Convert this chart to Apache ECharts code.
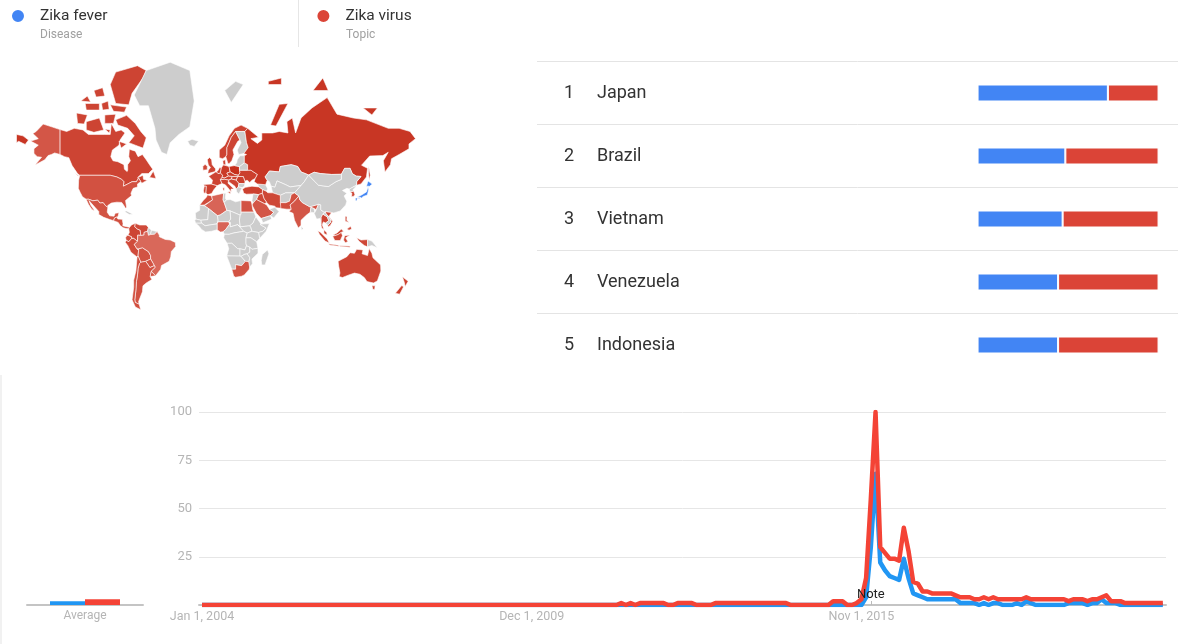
<!DOCTYPE html>
<html>
<head>
<meta charset="utf-8">
<title>Zika fever vs Zika virus</title>
<style>
  html, body { margin: 0; padding: 0; background: #fff; }
  #chart { width: 1178px; height: 644px; }
</style>
<script src="https://cdn.jsdelivr.net/npm/echarts@6/dist/echarts.min.js"></script>
</head>
<body>
<div id="chart"></div>
<script>
// legend
const seriesNames = ['Zika fever', 'Zika virus'];
const seriesKinds = ['Disease', 'Topic'];

// top regions table
const rankNames = ['Japan', 'Brazil', 'Vietnam', 'Venezuela', 'Indonesia'];
const rankFever = [72, 48.5, 47, 44.5, 44.5];
const rankVirus = [28, 51.5, 53, 55.5, 55.5];

// interest over time, one value per month from Jan 2004
const trendFever = [
  0,0,0,0,0,0,0,0,0,0,0,0,0,0,0,0,0,0,0,0,0,0,0,0,0,0,0,0,0,0,
  0,0,0,0,0,0,0,0,0,0,0,0,0,0,0,0,0,0,0,0,0,0,0,0,0,0,0,0,0,0,
  0,0,0,0,0,0,0,0,0,0,0,0,0,0,0,0,0,0,0,0,0,0,0,0,0,0,0,0,0,0,
  0,0,0,0,0,0,0,0,0,0,0,0,0,0,0,0,0,0,0,0,0,0,0,0,0,0,0,0,0,0,
  0,0,0,0,0,0,0,0,0,0,0,0,0,0,0,0,0,0,0,0,0,4,30,68,22,18,15,14,13,24,
  14,6,5,4,3,3,3,3,3,3,3,1,1,1,1,0,1,0,1,1,0,0,0,1,0,2,1,0,0,0,
  0,0,0,0,1,1,1,1,0,1,1,3,1,1,1,0,0,0,0,0,0,0,0,0,0
];
const trendVirus = [
  0,0,0,0,0,0,0,0,0,0,0,0,0,0,0,0,0,0,0,0,0,0,0,0,0,0,0,0,0,0,
  0,0,0,0,0,0,0,0,0,0,0,0,0,0,0,0,0,0,0,0,0,0,0,0,0,0,0,0,0,0,
  0,0,0,0,0,0,0,0,0,0,0,0,0,0,0,0,0,0,0,0,0,0,0,0,0,0,0,0,0,1,
  0,1,0,1,1,1,1,1,1,0,0,1,1,1,1,0,0,0,0,1,1,1,1,1,1,1,1,1,1,1,
  1,1,1,1,1,0,0,0,0,0,0,0,0,0,2,2,2,0,0,1,3,14,55,100,30,27,24,24,23,40,
  28,12,11,7,7,6,6,6,6,6,5,4,4,4,3,3,4,3,4,3,3,3,3,3,3,4,3,3,3,3,
  3,3,3,3,2,3,3,3,2,3,3,4,5,2,2,2,1,1,1,1,1,1,1,1,1
];
const labelTicks = [0, 70, 140];
const labelTexts = ['Jan 1, 2004', 'Dec 1, 2009', 'Nov 1, 2015'];
const noteTicks = [142];

// average bars
const averageFever = [2];
const averageVirus = [3];

// map: countries with a red share (0-100 darkness), everything else stays grey
const mapNames = ['Russia','Poland','Canada','Alaska','USA','Mexico','Central America','Colombia','Venezuela','Ecuador','Peru','Bolivia','Brazil','Paraguay','Uruguay','Argentina','Chile','Norway','Sweden','UK','Ireland','Spain','Portugal','France','Benelux','Germany','Alps','Italy','Czechia','Denmark','Ukraine','Hungary','Romania','Balkans','Turkey','Iran','Iraq','Saudi Arabia','Pakistan','India','South Korea','Thailand','Vietnam','Malaysia','Indonesia','Philippines','Australia','New Zealand','Morocco','Algeria','Egypt','Nigeria','South Africa'];
const mapShares = [90,100,70,45,52,50,55,70,62,55,60,50,20,50,50,52,55,72,70,70,65,75,72,72,72,85,75,72,85,70,78,70,78,72,75,65,65,45,55,45,70,72,70,70,65,60,70,75,60,25,50,25,50];
const blueCountries = ['Japan'];

// rough outlines as lon,lat pairs
const countryShapes = {
  Alaska: [[-141,69.6,-148,70.4,-156.5,71.3,-163,69,-166,68.3,-161,66.5,-168,65.6,-161,64,-165,62.5,-165,60.5,-162,59,-158,58.7,-164,54.8,-155,57.5,-152,59.5,-149,60,-146,60.7,-141,60]],
  Canada: [
    [-141,69.6,-135,69,-128,70,-120,69.5,-115,68,-108,68,-100,68,-95,68,-94,71.5,-90,69,-85,69.5,-81.5,68.5,-86,66,-87,64,-93,62,-94.5,59,-92.5,57,-88,56.5,-82.5,55,-82,52.5,-79.5,51.2,-79,52,-79,55,-76.5,57,-78,59,-77.5,62.3,-72,61.5,-69.5,59,-65.5,60,-62,57.5,-59,55,-56,52.5,-60,50,-66,50,-70,47.5,-65,49,-64.5,46.5,-61,46,-61,45.5,-66,44,-67,45,-69,47.3,-71,45,-75,45,-79,43.5,-83,42,-82.5,45,-84.5,46.5,-89,48,-95,49,-123,49,-125,50,-130,54.5,-130,55,-133,58.5,-137,59,-141,60],
    [-90,72.5,-80,73.7,-72,71.5,-67,69,-62,66.8,-65,62.8,-72,64,-78,65,-73,67.5,-79,70,-88,71],
    [-117,72,-105,73,-101,69.5,-110,68.7,-117,69.5],
    [-126,74.3,-116,73.8,-119,71.3,-125,71.5],
    [-95,80,-90,76.5,-78,76.2,-75,78.5,-65,81,-62,82,-70,82.6,-90,81.8],
    [-95,76.2,-80,75.7,-82,74.5,-92,74.7],
    [-118,76.5,-105,76.5,-105,75,-117,75],
    [-122,77,-116,78,-113,76.8],
    [-103,76.5,-97,77,-96,75.2,-102,75],
    [-100,73.8,-90,74,-92,71.5,-100,71.5],
    [-100,69.8,-95,69.5,-96,68.5],
    [-87,65.5,-80,64.5,-85,62.8],
    [-59,47.7,-53,47,-55.5,51.5],
    [-128,50.7,-123.5,48.4,-125,48.7],
    [-110,79,-102,79.5,-100,78,-108,77.8]
  ],
  USA: [[-123,49,-95,49,-89,48,-84.5,46.5,-82.5,45,-83,42,-79,43.5,-75,45,-71,45,-69,47.3,-67,45,-70,43.5,-70,41.5,-74,40.5,-76,37,-75.5,35.3,-81,31.5,-80,26,-81,25.2,-82.8,28,-84.5,30,-89,30.2,-94,29.5,-97.3,27.5,-97.2,25.9,-99.5,27.5,-101.5,29.8,-104.5,29.5,-106.5,31.8,-111,31.3,-114.8,32.5,-117.1,32.5,-120.5,34.5,-122.5,37.5,-124.3,40.5,-124,46]],
  Mexico: [[-117.1,32.5,-114.8,32.5,-111,31.3,-106.5,31.8,-104.5,29.5,-101.5,29.8,-99.5,27.5,-97.2,25.9,-97.8,22,-95.5,18.8,-91.5,18.5,-90.5,21,-87,21.5,-88,18,-89,17.8,-91,17,-92,14.6,-96,15.8,-101,17.5,-105.5,20,-105.5,22.5,-109,26,-112.5,29.5,-114.5,31.5,-113,28,-110,24,-109.7,23,-112,24.5,-115,28.5]],
  'Central America': [[-92,14.6,-91,17,-89,17.8,-88,16,-84,15.8,-83.3,12,-83.5,10,-80,9.2,-77.3,8.6,-78,7.4,-80.5,7.5,-83,8.2,-85.7,10,-87.7,13]],
  Cuba: [[-85,22,-80,23,-74.2,20.2,-77.5,19.9,-82,22.5]],
  Colombia: [[-77.3,8.6,-75.5,10.8,-72,12.2,-72.5,9,-70,7,-67.5,6,-67,1.2,-69.8,1.5,-70,-4.2,-73.5,-1.5,-75.3,-1.5,-75.5,0,-78.8,1.4,-77.5,4,-78,7.4]],
  Venezuela: [[-72,12.2,-68,10.7,-62,10.7,-60,8.5,-60.8,5,-64,4,-64,1.5,-67,1.2,-67.5,6,-70,7,-72.5,9]],
  Guyana: [[-60,8.5,-57.2,6,-58,2,-60,1.3,-60.8,5]],
  Suriname: [[-57.2,6,-52,4.7,-54.5,2.3,-58,2]],
  Ecuador: [[-78.8,1.4,-75.5,0,-75.3,-1.5,-78,-4.5,-80.3,-3.4,-81,-1,-80,0.8]],
  Peru: [[-80.3,-3.4,-78,-4.5,-75.3,-1.5,-73.5,-1.5,-70,-4.2,-73,-7,-70.5,-11,-69,-12.5,-69.5,-17.3,-70.4,-18.3,-76,-14,-79,-8,-81.3,-5]],
  Bolivia: [[-69,-11,-65.5,-10,-60,-13.5,-58,-17,-58,-20,-62.5,-22,-67,-22.8,-69.5,-17.3,-69,-12.5]],
  Brazil: [[-64,4,-60.8,5,-60,1.3,-58,2,-54.5,2.3,-52,4.7,-50,1.5,-50,0,-44.5,-2.5,-40,-3,-35.3,-5.2,-35,-9,-39,-13.5,-39.5,-18,-41,-22,-48,-25.5,-48.7,-28.5,-53.4,-33.7,-57.6,-30.2,-53.8,-27,-54.6,-25.6,-55.5,-24,-58,-20,-58,-17,-60,-13.5,-65.5,-10,-69,-11,-70.5,-11,-73,-7,-70,-4.2,-69.8,1.5,-67,1.2,-64,1.5]],
  Paraguay: [[-58,-20,-55.5,-24,-54.6,-25.6,-58.6,-27.2,-62.5,-22]],
  Uruguay: [[-57.6,-30.2,-53.4,-33.7,-58.4,-34.3]],
  Argentina: [[-67,-22.8,-62.5,-22,-58.6,-27.2,-54.6,-25.6,-53.8,-27,-57.6,-30.2,-58.4,-34.3,-56.8,-36.5,-62,-39,-65,-41,-65.5,-45,-69,-51,-68.5,-52.5,-72,-51.5,-72.5,-50,-71.5,-44,-71,-38,-70,-33,-69.5,-28,-68.3,-24]],
  Chile: [[-69.5,-17.3,-67,-22.8,-68.3,-24,-69.5,-28,-70,-33,-71,-38,-71.5,-44,-72.5,-50,-72,-51.5,-68.5,-52.5,-67,-55.5,-72,-54,-75,-50,-73.5,-42,-73.5,-37,-71.5,-30,-70.4,-18.3]],
  Greenland: [[-73,78.2,-62,82,-40,83,-22,82,-18,77,-22,70.5,-32,68,-40,65,-43,60,-48,61,-53,66,-54,70,-60,76,-68,76]],
  Iceland: [[-24,65.5,-20,66.3,-14,65.5,-18,63.5,-22,64]],
  Svalbard: [[10,79,20,80.5,27,80,16,76.7]],
  Norway: [[5,58.5,5,62,10,64,14,67.5,19,70,25,71,31,70,28.5,69,25,69,20,69,16,67,14,65,12,63,12,60,11,59,8,58]],
  Sweden: [[11,59,12,60,12,63,14,65,16,67,20,69,24,66,22,65.5,17.5,62,18.5,60,16.5,57,14,55.5,13,55.5]],
  Finland: [[20,69,25,69,28.5,69,30,65,31.5,63,27.5,60.4,22.8,60,21.5,62,25,65,24,66]],
  UK: [[-5.5,50,1.3,51.2,1.7,52.7,-1.5,55,-2,57.5,-4,58.6,-6,57.5,-5,54.8,-3,53.5,-5,52]],
  Ireland: [[-10,52,-6,52.2,-6,54,-8,55.2,-10,54]],
  Spain: [[-9.2,43.2,-2,43.4,3.2,42.4,0,39.5,-2,36.8,-5.5,36,-7.4,37.2,-7,42,-8.8,42]],
  Portugal: [[-8.8,42,-7,42,-7.4,37.2,-9,37,-9.5,38.8]],
  France: [[-2,43.4,-1.2,46,-4.7,48.4,1.5,50.9,2.5,51,4,50,6,50.4,8.2,49,7.5,47.6,6,46.3,7.5,43.8,3.2,42.4]],
  Benelux: [[2.5,51,4,52,5,53.3,7,53.3,6,50.4,4,50]],
  Germany: [[7,53.3,8.7,54.9,14,54,15,51,12,50.3,13.5,48.6,10,47.4,7.5,47.6,8.2,49,6,50.4]],
  Alps: [[7.5,47.6,10,47.4,13.5,48.6,17,48.3,16,46.7,13.7,46,10,46.5,6,46.3]],
  Italy: [[6,46.3,7.5,43.8,10.5,43,12.5,41.3,16,38,15.8,40,18.5,40,13,44,13.7,46,10,46.5],[12.5,38,15.5,38.2,15,36.7],[8.3,41,9.7,41,9.5,39,8.5,39]],
  Poland: [[14,54,19,54.5,23.5,54,23.5,52,24,50.5,22.5,49,19,49.5,15,51]],
  Czechia: [[12,50.3,15,51,19,49.5,22.5,49,22,48.3,17,48.3,13.5,48.6]],
  Denmark: [[8.7,54.9,8.2,57,10.5,57.5,11,55]],
  Ukraine: [[24,50.5,23.5,52,31,52,34,52,40,49.5,38,47,35,46,33,44.5,30.5,46,28.5,45.3,27,48.2,22,48.3,22.5,49]],
  Belarus: [[23.5,54,28,56,31,55,31,52,23.5,52]],
  Baltics: [[21,56,21.5,57.5,24,59.4,28,59.4,28,56,23.5,54,19,54.5]],
  Hungary: [[16,46.7,17,48.3,22,48.3,20.5,46]],
  Romania: [[22,48.3,27,48.2,28.5,45.3,28.5,43.7,23,43.8,20.5,46]],
  Balkans: [[13.7,46,16,46.7,20.5,46,23,43.8,22.5,41.5,20.5,40,19.3,42,13.7,45]],
  Bulgaria: [[23,43.8,28.5,43.7,28,42,26,41,22.5,41.5]],
  Greece: [[20.5,40,22.5,41.5,26,41,24,38,23,36.5,21,38]],
  Turkey: [[26.3,40,29,41.2,35,42,41.5,41.5,44.7,39.7,44.5,37,41,36,36,36.5,30,36.3,27.5,37]],
  Caucasus: [[40,43.5,47.5,43,48.5,41.5,49.5,40,48,38.5,44.7,39.7,41.5,41.5]],
  Russia: [
    [28,59.4,30,60,27.5,60.4,31.5,63,30,65,28.5,69,31,70,41,67,34,66.5,40,64.7,44,66,44,68.5,54,68.5,60,69,68,68.5,67,72,72,73,75,68.5,80,73,90,75.5,104,77.7,113,74,128,73,140,72.5,160,70,170,70,180,69,185,66.5,179,64.5,179,62.5,170,60,163,58,162,55,157,51,155.5,57,160,61,155,59.5,143,59.3,135.5,54.7,141,53,140,48,135,43.5,131,42.7,131,45,135,48.3,130.5,48.5,127,50,125,53,120,53,117,49.6,108,49.5,98,50,92,50.8,87,49.2,80,51,77,54,71,55,61,54,60,51,51,51.5,47,48,49,46,47.5,43,40,43.5,37,45,38,47,40,49.5,34,52,31,52,31,55,28,56],
    [52,71,57,70.7,68,76.5,60,76.3],
    [142,54.3,143.5,49,142.5,46,142,50],
    [50,80.5,62,81,62,80,50,80],
    [91,79,105,79,100,81],
    [137,75.5,150,75.5,145,73.8],
    [-181,68,-175,67.5,-170,66,-173,64.3,-179,65.5,-181,65]
  ],
  Kazakhstan: [[47,48,51,51.5,60,51,61,54,71,55,77,54,80,51,87,49.2,83,45,80,42.5,70,41.5,66,43,58,45.5,56,41.3,52.5,42,51,45,49,46]],
  'Central Asia': [[52.5,42,56,41.3,58,45.5,66,43,70,41.5,80,42.5,74,37.3,66,37.3,61,35.5,54,37.3]],
  Afghanistan: [[61,35.5,66,37.3,74,37.3,71,36,69.5,31,66,29.8,61,29.8]],
  Iran: [[44.7,39.7,48,38.5,49.5,37.4,54,37.3,61,35.5,61,29.8,63,25.2,57,25.7,56,27,51,27.8,48.5,30,46,33,44.5,37]],
  Iraq: [[44.5,37,46,33,48.5,30,46.5,29,39,32.3,41,36]],
  Syria: [[36,36.5,41,36,39,32.3,36,29.5,35,31.5]],
  'Saudi Arabia': [[35,28,36,29.5,39,32.3,46.5,29,48.5,28,51,24.5,55,22,52,19,43.5,16.5,39,21]],
  Oman: [[51,24.5,56,26,59.8,22.5,55,17,52,19,55,22]],
  Yemen: [[43.5,16.5,52,19,53,16,45,12.7]],
  Pakistan: [[61,29.8,66,29.8,69.5,31,71,36,74,37.3,78,35,74,31,70,28,71,24.5,67,24.5,61.5,25]],
  India: [[78,35,79,32,81,30,88,26.5,96,28.5,94,24,92,25,89,26,88.5,22,85,19.5,80,15,80,10.5,77.5,8,74,15,72.7,21,69,22.5,71,24.5,70,28,74,31]],
  Bangladesh: [[88.5,22,89,26,92,25,92.5,21.5]],
  'Sri Lanka': [[80,9.5,82,7.5,80.5,6]],
  China: [[74,37.3,80,42.5,83,45,87,49.2,92,45.5,96,42.7,105,41.7,112,45,117,46.5,117,49.6,120,53,125,53,127,50,130.5,48.5,135,48.3,131,45,131,42.7,124.3,40,122,40.5,118,39,122,37,119.5,35,122,31,121,28,116,23,110,21.3,108,21.7,102,22.4,101.5,21.5,98,24,98,28,96,28.5,88,26.5,81,30,79,32,78,35]],
  Mongolia: [[87,49.2,92,50.8,98,50,108,49.5,117,49.6,117,46.5,112,45,105,41.7,96,42.7,92,45.5]],
  'North Korea': [[124.3,40,131,42.7,129.5,41,127.5,39.5,128.3,38.5,125,37.8]],
  'South Korea': [[125,37.8,128.3,38.5,129.4,36,128.5,34.8,126.3,34.5,126.7,37]],
  Japan: [
    [131,34,135.5,35.7,140,38,141.5,41.4,142,39.5,140.8,35.7,137,34.6,135.5,33.5,132.5,34.2],
    [140,42,141.5,45.4,145.3,43.4,143,42],
    [129.8,33.3,131.8,33.7,131,31.2,130,31.5],
    [132.3,33.7,134.5,34.2,134,33.3,133,32.8]
  ],
  Myanmar: [[92.5,21.5,94,24,96,28.5,98,28,98,24,101.5,21.5,100,20.3,98.5,17.5,98.5,10,97.5,16.5,94.3,16,92,21]],
  Thailand: [[98.5,17.5,100,20.3,104,18,105.5,14.5,102.5,12.5,100.5,13.5,99.5,11,101,6.5,99,8,98.5,10]],
  Vietnam: [[102,22.4,108,21.7,105.6,18.5,109,14,107,10.5,105,9,104.5,10.4,107,13,107.5,15,105,18.5,103,20.5]],
  Laos: [[101.5,21.5,102,22.4,103,20.5,105,18.5,107.5,15,107,13,104.5,10.4,102.5,12.5,105.5,14.5,104,18,100,20.3]],
  Malaysia: [[101,6.5,103.5,4,104,1.5,101,3],[109.5,1.5,113,3.5,117,7,119,5,117,4,114,2,111,1]],
  Indonesia: [
    [109,0.5,111,1,114,2,117,4,118,1,116,-3.5,111,-3.5],
    [95.3,5.6,98,4,104,-2,106,-5.8,102,-4,97,2],
    [105.3,-6.5,114.5,-7.7,114.5,-8.7,106,-7.5],
    [120,1,125,1.5,121,-1,123,-4.5,120.5,-5.5,119,-3],
    [131,-1,135,-3,141,-2.6,141,-9.2,138,-8,133,-4],
    [115,-8.3,125,-8.5,125,-9.5,116,-9]
  ],
  'Papua New Guinea': [[141,-2.6,145,-4,150,-10,145,-8,141,-9.2]],
  Philippines: [[120.5,18.5,122.2,18.3,122,15,124,13,120.5,14],[122,7,125.5,9.5,126.5,7,124,6]],
  Australia: [[114,-22,114.5,-26,115.7,-31.5,115,-34.3,118,-35,124,-33,129,-31.6,134,-32.5,138,-35,140.5,-38,146.5,-39,150,-37.5,153.2,-30,153,-25,146,-19,145,-15,142.5,-10.8,141,-17,136,-15.5,136.8,-12,131,-11.5,129,-15,125,-14.5,122,-18,117,-20.5],[145,-41,148,-41,147.5,-43.5,146,-43.5]],
  'New Zealand': [[173,-34.5,178.3,-37.7,175.5,-41.5,174.7,-38.5],[172.5,-40.7,174,-41.8,170.5,-46.5,166.5,-46,171,-42]],
  Morocco: [[-5.9,35.8,-2,35,-1.2,32,-8.7,28,-13,27.7,-9.8,31.5,-6.8,34]],
  Algeria: [[-2,35,9,37,8.5,32,9.5,30,12,23.5,5.8,19.5,3.3,19,-4.8,25,-8.7,27.3,-8.7,28,-1.2,32]],
  Tunisia: [[9,37,11,37,10.5,33.2,11.5,32,9.5,30,8.5,32]],
  Libya: [[11.5,32,15,32.3,20,30.5,25,31.5,25,20,24,19.5,15,23,12,23.5,9.5,30]],
  Egypt: [[25,31.5,34,31.2,34.7,29.5,35.8,23.9,37,22,25,22]],
  Sudan: [[25,22,37,22,38.5,18,36,12.5,33,10,24,9,23.5,15,24,19.5,25,20]],
  Mauritania: [[-17,21.3,-13,23.5,-13,27.7,-8.7,27.3,-4.8,25,-5.5,15.5,-12,15,-16.5,16]],
  Mali: [[-4.8,25,3.3,19,4,15,3,11.7,-2,11,-8,10,-11.5,12.5,-12,15,-5.5,15.5]],
  Niger: [[3.3,19,5.8,19.5,12,23.5,15,23,15.5,16,13.5,13.5,4,13.5,3,11.7,4,15]],
  Chad: [[15,23,24,19.5,23.5,15,24,9,22,11,15,9,15,13,13.5,13.5,15.5,16]],
  Nigeria: [[3,11.7,4,13.5,13.5,13.5,14.5,11.5,11,6.7,8.5,4.6,6,4.3,3,6.4]],
  'West Coast': [[-16.8,12.5,-11.5,12.5,-8,10,-2,11,3,11.7,3,6.4,-2,5,-7.5,4.4,-11,6.5,-13.5,9.5]],
  Senegal: [[-16.5,16,-12,15,-11.5,12.5,-16.8,12.5,-17.4,14.7]],
  Cameroon: [[8.5,4.6,11,6.7,14.5,11.5,15,13,15,9,22,11,27.5,5,18.5,3.5,14,2.2,9.7,2.3]],
  Congo: [[9.7,2.3,14,2.2,18.5,3.5,27.5,5,30.7,3.5,29.5,-1,29.5,-6,30,-8.3,28.5,-12,24,-11,22,-11,16.5,-6,12.2,-6,9,-1]],
  'South Sudan': [[22,11,24,9,33,10,34,8.5,35,5,30.7,3.5,27.5,5]],
  Ethiopia: [[36,12.5,38.5,18,43,12,42.8,11,48,8,45,5,41,3.9,35,5,34,8.5,33,10]],
  Somalia: [[43,11.5,51,12,48,5,42,-1.5,41,3.9,45,5,48,8,42.8,11]],
  Kenya: [[30.7,3.5,35,5,41,3.9,42,-1.5,39.3,-4.6,34,-1,29.5,-1]],
  Tanzania: [[29.5,-1,34,-1,39.3,-4.6,40.5,-10.5,35,-11.5,33,-9.5,30,-8.3,29.5,-6]],
  Angola: [[12.2,-6,16.5,-6,22,-11,24,-11,24,-17.5,11.8,-17.3,13.7,-11]],
  Zambia: [[24,-11,28.5,-12,30,-8.3,33,-9.5,33,-14,30.5,-15.5,28,-16,25,-17.7,24,-17.5]],
  Mozambique: [[33,-9.5,35,-11.5,40.5,-10.5,40.5,-15,35,-20,35.5,-24,32.8,-26.8,32,-22.3,33,-19,30.5,-15.5,33,-14]],
  Namibia: [[11.8,-17.3,24,-17.5,25,-17.7,29,-22,25.5,-25.6,20,-24.8,20,-28.5,16.5,-28.6]],
  Zimbabwe: [[25,-17.7,28,-16,30.5,-15.5,33,-19,32,-22.3,29,-22]],
  'South Africa': [[16.5,-28.6,20,-28.5,20,-24.8,25.5,-25.6,29,-22,32,-22.3,32.8,-26.8,32.5,-28.5,28,-33,25.5,-34,20,-34.8,18.3,-34]],
  Madagascar: [[49.3,-12,50.5,-15.5,47,-25,44,-25,43.5,-21,44.5,-16]]
};

function toRing(flat) {
  const ring = [];
  for (let i = 0; i < flat.length; i += 2) ring.push([flat[i], flat[i + 1]]);
  ring.push(ring[0]);
  return ring;
}

const worldGeo = {
  type: 'FeatureCollection',
  features: Object.keys(countryShapes).map(function (name) {
    return {
      type: 'Feature',
      properties: { name: name },
      geometry: { type: 'MultiPolygon', coordinates: countryShapes[name].map(r => [toRing(r)]) }
    };
  })
};
echarts.registerMap('world-rough', worldGeo);

const mercator = {
  project: ([lon, lat]) => [lon, -Math.log(Math.tan(Math.PI / 4 + lat * Math.PI / 360)) * 180 / Math.PI],
  unproject: ([x, y]) => [x, (2 * Math.atan(Math.exp(-y * Math.PI / 180)) - Math.PI / 2) * 180 / Math.PI]
};

// light red to dark red by share
function redShade(share) {
  const light = [222, 118, 106], dark = [198, 47, 28];
  const c = light.map((v, i) => Math.round(v + (dark[i] - v) * share / 100));
  return 'rgb(' + c.join(',') + ')';
}

const mapData = Object.keys(countryShapes).map(function (name) {
  const idx = mapNames.indexOf(name);
  let color = '#cdcdcd';
  if (idx >= 0) color = redShade(mapShares[idx]);
  if (blueCountries.includes(name)) color = '#4285f4';
  return { name: name, value: idx >= 0 ? mapShares[idx] : 0, itemStyle: { areaColor: color } };
});

const chart = echarts.init(document.getElementById('chart'));
const greyText = '#b5b5b5';

chart.setOption({
  animation: false,
  backgroundColor: '#fff',
  textStyle: { fontFamily: 'Roboto' },
  legend: {
    left: 5,
    top: 3,
    icon: 'circle',
    itemWidth: 14,
    itemHeight: 14,
    itemGap: 208,
    selectedMode: false,
    data: seriesNames,
    textStyle: { fontSize: 15.5, color: '#333', padding: [0, 0, 0, 10] }
  },
  grid: [
    { left: 537, right: 0, top: 61.5, height: 315 }, // top regions
    { left: 199, right: 12, top: 412, bottom: 39 }, // trend
    { left: 27, width: 116, top: 412, bottom: 39 } // average
  ],
  xAxis: [
    { gridIndex: 0, type: 'value', min: -243.4, max: 110.74, show: false },
    {
      gridIndex: 1,
      type: 'value',
      min: -0.64,
      max: 204.67,
      splitLine: { show: false },
      axisLine: { onZero: false, lineStyle: { color: '#c4c4c4', width: 2 } },
      axisTick: { customValues: noteTicks, inside: true, length: 4, lineStyle: { color: '#bbb' } },
      axisLabel: {
        customValues: labelTicks,
        formatter: v => labelTexts[labelTicks.indexOf(v)],
        color: greyText,
        fontSize: 12.5,
        margin: 5
      }
    },
    {
      gridIndex: 2,
      type: 'category',
      data: ['Average'],
      axisLine: { lineStyle: { color: '#c4c4c4', width: 2 } },
      axisTick: { show: false },
      axisLabel: { color: greyText, fontSize: 12, margin: 5 }
    }
  ],
  yAxis: [
    {
      gridIndex: 0,
      type: 'category',
      inverse: true,
      data: rankNames,
      axisLine: { show: false },
      axisTick: { show: false },
      splitLine: { show: true, interval: 0, showMaxLine: false, lineStyle: { color: '#e4e4e4', width: 1 } },
      axisLabel: {
        inside: true,
        margin: 27,
        align: 'left',
        interval: 0,
        formatter: (v, i) => '{rank|' + (i + 1) + '}{name|' + v + '}',
        rich: {
          rank: { width: 33, fontSize: 18, color: '#333', fontFamily: 'Roboto', padding: [1, 0, 0, 0] },
          name: { fontSize: 18, color: '#333', fontFamily: 'Roboto', padding: [1, 0, 0, 0] }
        }
      }
    },
    {
      gridIndex: 1,
      type: 'value',
      min: 0,
      max: 100,
      interval: 25,
      axisLine: { show: false },
      axisTick: { show: false },
      splitLine: { lineStyle: { color: '#e6e6e6', width: 1 } },
      axisLabel: { color: greyText, fontSize: 13, margin: 7, formatter: v => (v > 0 ? v : '') }
    },
    { gridIndex: 2, type: 'value', min: 0, max: 100, show: false }
  ],
  series: [
    {
      name: seriesNames[0],
      type: 'bar',
      xAxisIndex: 0,
      yAxisIndex: 0,
      stack: 'share',
      barWidth: 17,
      itemStyle: { color: '#4285f4', borderColor: '#fff', borderWidth: 1 },
      data: rankFever
    },
    {
      name: seriesNames[1],
      type: 'bar',
      xAxisIndex: 0,
      yAxisIndex: 0,
      stack: 'share',
      barWidth: 17,
      itemStyle: { color: '#db4437', borderColor: '#fff', borderWidth: 1 },
      data: rankVirus
    },
    {
      name: seriesNames[0],
      type: 'line',
      xAxisIndex: 1,
      yAxisIndex: 1,
      showSymbol: false,
      lineStyle: { color: '#2196f3', width: 4.5, join: 'round' },
      itemStyle: { color: '#2196f3' },
      data: trendFever.map((v, i) => [i, v])
    },
    {
      name: seriesNames[1],
      type: 'line',
      xAxisIndex: 1,
      yAxisIndex: 1,
      showSymbol: false,
      lineStyle: { color: '#f44336', width: 4.5, join: 'round' },
      itemStyle: { color: '#f44336' },
      data: trendVirus.map((v, i) => [i, v]),
      markPoint: {
        silent: true,
        symbol: 'circle',
        symbolSize: 0,
        data: [{ coord: [noteTicks[0], 0] }],
        label: { show: true, position: 'top', distance: 4, formatter: 'Note', color: '#222', fontSize: 13 }
      }
    },
    {
      name: seriesNames[0],
      type: 'bar',
      xAxisIndex: 2,
      yAxisIndex: 2,
      barWidth: 35,
      barGap: 0,
      itemStyle: { color: '#2196f3' },
      data: averageFever
    },
    {
      name: seriesNames[1],
      type: 'bar',
      xAxisIndex: 2,
      yAxisIndex: 2,
      barWidth: 35,
      barGap: 0,
      itemStyle: { color: '#f44336' },
      data: averageVirus
    },
    {
      type: 'map',
      map: 'world-rough',
      silent: true,
      showLegendSymbol: false,
      projection: mercator,
      layoutCenter: [216, 186],
      layoutSize: 399,
      label: { show: false },
      itemStyle: { areaColor: '#cdcdcd', borderColor: '#fff', borderWidth: 0.6 },
      emphasis: { disabled: true },
      select: { disabled: true },
      data: mapData
    }
  ],
  graphic: [
    { type: 'text', left: 40, top: 29, style: { text: seriesKinds[0], fill: '#a0a0a0', fontSize: 12, fontFamily: 'Roboto' } },
    { type: 'text', left: 346, top: 29, style: { text: seriesKinds[1], fill: '#a0a0a0', fontSize: 12, fontFamily: 'Roboto' } },
    { type: 'rect', shape: { x: 298, y: 0, width: 1, height: 47 }, style: { fill: '#e6e6e6' } },
    { type: 'rect', shape: { x: 0, y: 375, width: 2, height: 269 }, style: { fill: '#f1f1f1' } }
  ]
});
</script>
</body>
</html>
